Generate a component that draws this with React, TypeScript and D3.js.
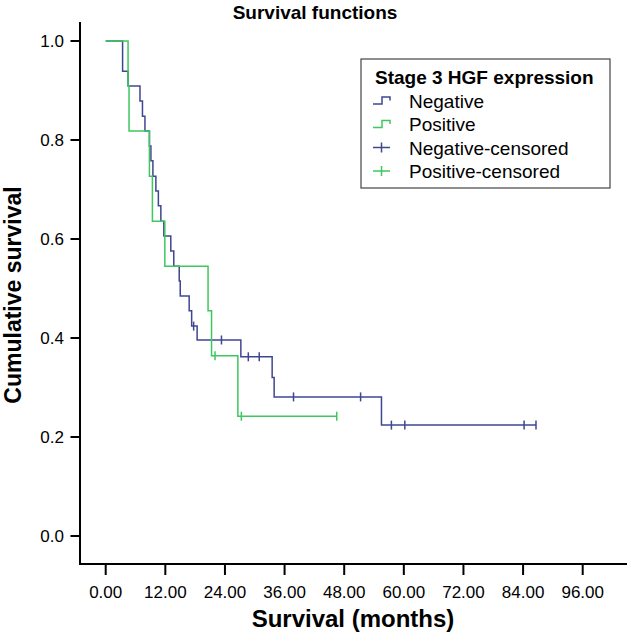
import React from "react";
import * as d3 from "d3";

// ---- data ----
const xTickValues = [0, 12, 24, 36, 48, 60, 72, 84, 96];
const yTickValues = [0, 0.2, 0.4, 0.6, 0.8, 1.0];

// Negative group: event times (months) and survival after each event
const negEventTimes = [3.4, 4.5, 6.9, 7.4, 7.9, 8.8, 9.1, 9.5, 10.1, 10.6, 11.1, 11.7, 13.1, 13.7, 14.8, 15.0, 16.8, 17.3, 18.4, 27.2, 33.5, 33.9, 55.5];
const negEventSurv = [0.939, 0.909, 0.879, 0.848, 0.818, 0.788, 0.758, 0.727, 0.697, 0.667, 0.636, 0.606, 0.576, 0.545, 0.515, 0.485, 0.455, 0.424, 0.396, 0.362, 0.32, 0.281, 0.224];
const negCensorTimes = [17.7, 23.3, 28.7, 30.9, 37.8, 51.3, 57.5, 60.2, 84.2, 86.6];

// Positive group
const posEventTimes = [4.5, 4.7, 8.8, 9.4, 11.9, 20.6, 21.3, 26.6];
const posEventSurv = [0.909, 0.818, 0.727, 0.636, 0.545, 0.455, 0.364, 0.242];
const posCensorTimes = [22.0, 27.3, 46.5];

const legendTitle = "Stage 3 HGF expression";
const legendLabels = ["Negative", "Positive", "Negative-censored", "Positive-censored"];

const NAVY = "#3f4791";
const GREEN = "#3fc75e";
const FONT = "'Liberation Sans', Arial, Helvetica, sans-serif";

function survAt(times: number[], surv: number[], t: number) {
  let s = 1;
  for (let i = 0; i < times.length; i++) if (times[i] <= t) s = surv[i];
  return s;
}

function stepPoints(times: number[], surv: number[], end: number): [number, number][] {
  const pts: [number, number][] = [[0, 1]];
  times.forEach((t, i) => pts.push([t, surv[i]]));
  pts.push([end, surv[surv.length - 1]]);
  return pts;
}

export default function App() {
  const W = 628, H = 634;
  const x = d3.scaleLinear().domain([0, 96]).range([105.7, 582.7]);
  const y = d3.scaleLinear().domain([0, 1]).range([536, 41]);
  const line = d3.line<[number, number]>().x(d => x(d[0])).y(d => y(d[1])).curve(d3.curveStepAfter);

  const negEnd = d3.max(negCensorTimes) as number;
  const posEnd = d3.max(posCensorTimes) as number;
  const negPath = line(stepPoints(negEventTimes, negEventSurv, negEnd)) || "";
  const posPath = line(stepPoints(posEventTimes, posEventSurv, posEnd)) || "";

  const fmtX = d3.format(".2f");
  const fmtY = d3.format(".1f");

  const axisY0 = 564, axisX0 = 80;

  const legendX = 361, legendY = 59, legendW = 249, legendH = 129;
  const rowBase = [107.5, 131, 154.5, 178];

  return (
    <svg width={W} height={H} style={{ position: "absolute", left: 0, top: 0, background: "#fff" }} fontFamily={FONT}>
      <rect x={0} y={0} width={W} height={H} fill="#fff" />
      <text x={315} y={19} textAnchor="middle" fontSize={19} fontWeight="bold">Survival functions</text>

      {/* axes */}
      <line x1={axisX0} x2={axisX0} y1={22} y2={axisY0 + 1} stroke="#000" strokeWidth={2} />
      <line x1={axisX0 - 1} x2={627} y1={axisY0} y2={axisY0} stroke="#000" strokeWidth={2} />
      {yTickValues.map(v => (
        <g key={"y" + v}>
          <line x1={70.5} x2={axisX0} y1={y(v)} y2={y(v)} stroke="#000" strokeWidth={2} />
          <text x={64} y={y(v) + 6} textAnchor="end" fontSize={17}>{fmtY(v)}</text>
        </g>
      ))}
      {xTickValues.map(v => (
        <g key={"x" + v}>
          <line x1={x(v)} x2={x(v)} y1={axisY0} y2={575} stroke="#000" strokeWidth={2} />
          <text x={x(v)} y={598} textAnchor="middle" fontSize={17}>{fmtX(v)}</text>
        </g>
      ))}
      <text x={353} y={627} textAnchor="middle" fontSize={24} fontWeight="bold">Survival (months)</text>
      <text transform="translate(21,295) rotate(-90)" textAnchor="middle" fontSize={23} fontWeight="bold">Cumulative survival</text>

      {/* curves */}
      <path d={negPath} fill="none" stroke={NAVY} strokeWidth={1.5} />
      <path d={posPath} fill="none" stroke={GREEN} strokeWidth={1.5} />
      {negCensorTimes.map((t, i) => {
        const cy = y(survAt(negEventTimes, negEventSurv, t));
        return <line key={"nc" + i} x1={x(t)} x2={x(t)} y1={cy - 4.5} y2={cy + 4.5} stroke={NAVY} strokeWidth={1.5} />;
      })}
      {posCensorTimes.map((t, i) => {
        const cy = y(survAt(posEventTimes, posEventSurv, t));
        return <line key={"pc" + i} x1={x(t)} x2={x(t)} y1={cy - 4.5} y2={cy + 4.5} stroke={GREEN} strokeWidth={1.5} />;
      })}

      {/* legend */}
      <rect x={legendX} y={legendY} width={legendW} height={legendH} fill="#fff" stroke="#444" strokeWidth={1.2} />
      <text x={375} y={84} fontSize={19} fontWeight="bold">{legendTitle}</text>
      {legendLabels.map((lab, i) => {
        const b = rowBase[i];
        const c = b - 7;
        const color = i % 2 === 0 ? NAVY : GREEN;
        return (
          <g key={lab}>
            {i < 2 ? (
              <path d={`M373,${c + 3.5}H382V${c - 3.5}H390V${c}`} fill="none" stroke={color} strokeWidth={1.5} />
            ) : (
              <g>
                <line x1={373} x2={390} y1={c} y2={c} stroke={color} strokeWidth={1.5} />
                <line x1={381.5} x2={381.5} y1={c - 5} y2={c + 5} stroke={color} strokeWidth={1.5} />
              </g>
            )}
            <text x={409} y={b} fontSize={19}>{lab}</text>
          </g>
        );
      })}
    </svg>
  );
}
